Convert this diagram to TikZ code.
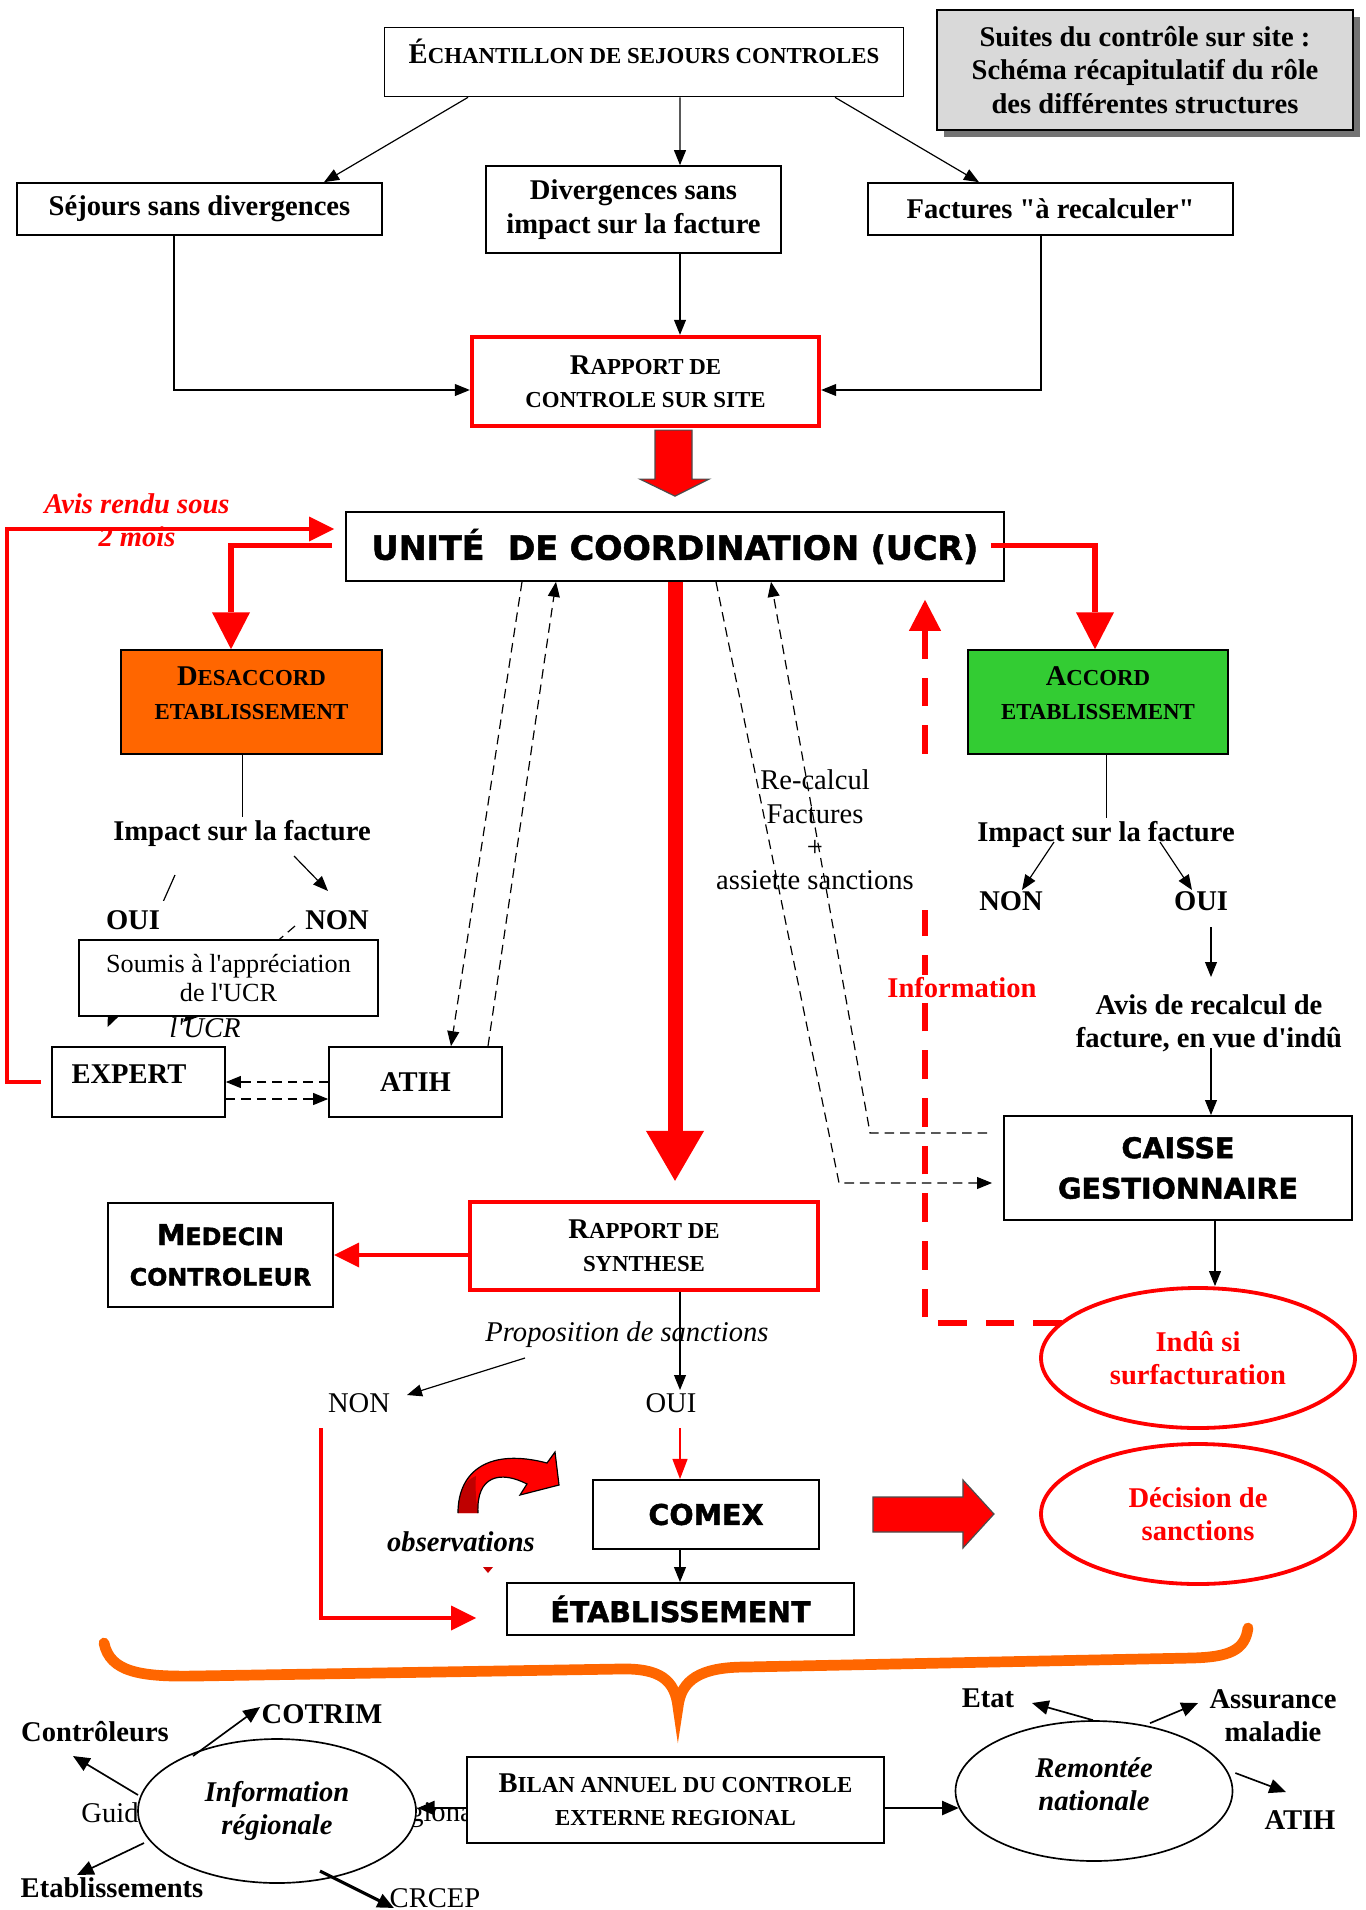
\documentclass[tikz,border=0pt]{standalone}
\usepackage{fontspec}
\setmainfont{Liberation Serif}
\newfontfamily\heavyfont{DejaVu Sans}[BoldFeatures={FakeBold=1.5}]
\usetikzlibrary{arrows.meta,calc,shapes.geometric,shadows,backgrounds}
\definecolor{ucrred}{RGB}{255,0,0}
\definecolor{desorange}{RGB}{255,102,0}
\definecolor{accgreen}{RGB}{51,204,51}
\newdimen\pxu \pxu=0.42pt
\newcommand\scap[2]{{\fontsize{12}{14}\selectfont #1}{\fontsize{9.6}{14}\selectfont #2}}
\newcommand\hcap[2]{{\fontsize{12}{17}\selectfont #1}{\fontsize{10}{17}\selectfont #2}}
\newcommand\ap{\textquotesingle}
\begin{document}
\begin{tikzpicture}[x=0.42pt, y=-0.42pt,
  box/.style={draw, line width=0.7pt, inner sep=0pt, align=center, font=\fontsize{12}{14}\selectfont\bfseries},
  redbox/.style={box, draw=ucrred, line width=1.8pt},
  heavybox/.style={box, line width=0.8pt, font=\heavyfont\bfseries\fontsize{12}{17}\selectfont},
  oval/.style={ellipse, draw, fill=white, line width=0.7pt, inner sep=0pt, align=center, font=\fontsize{12}{14}\selectfont\bfseries\itshape},
  redoval/.style={oval, draw=ucrred, line width=1.6pt, text=ucrred, font=\fontsize{12}{14}\selectfont\bfseries},
  lbl/.style={inner sep=1pt, align=center, font=\fontsize{12}{14}\selectfont\bfseries},
  txt/.style={inner sep=1pt, align=center, font=\fontsize{12}{14}\selectfont},
  itxt/.style={txt, font=\fontsize{12}{14}\selectfont\itshape},
  arr/.style={line width=0.5pt, -{Triangle[length=6.3pt, width=5pt]}},
  arrbig/.style={line width=0.7pt, -{Triangle[length=7pt, width=6pt]}},
  dsh/.style={arr, dash pattern=on 4pt off 2.5pt},
  redarr/.style={draw=ucrred, line width=2.5pt, -{Triangle[length=15.5pt, width=16pt, line width=0pt]}},
  redmid/.style={draw=ucrred, line width=1.6pt, -{Triangle[length=10.5pt, width=10.5pt, line width=0pt]}},
  redthin/.style={draw=ucrred, line width=1pt, -{Triangle[length=8.5pt, width=6.5pt, line width=0pt]}},
  reddash/.style={draw=ucrred, line width=2.5pt, dash pattern=on 12pt off 8pt},
  bigred/.style={draw=ucrred, line width=6.3pt, -{Triangle[length=21pt, width=24.4pt, line width=0pt]}},
  blockred/.style={fill=ucrred, draw=black!70, line width=0.5pt}]
\useasboundingbox (0,0) rectangle (1366,1910);

% top part
\node[box, text depth=9pt] (ech) at (644,62) [minimum width=519\pxu, minimum height=69\pxu] {\scap{É}{CHANTILLON DE SEJOURS CONTROLES}};
\node[box, fill=black!15, drop shadow={shadow xshift=3pt, shadow yshift=-3pt, fill=black!55, opacity=1}] (title) at (1145,70) [minimum width=416\pxu, minimum height=120\pxu] {Suites du contrôle sur site :\\Schéma récapitulatif du rôle\\des différentes structures};
\node[box] (sejours) at (199.5,209) [minimum width=365\pxu, minimum height=52\pxu] {Séjours sans divergences};
\node[box] (diverg) at (633.5,209.5) [minimum width=295\pxu, minimum height=87\pxu] {Divergences sans\\impact sur la facture};
\node[box] (factures) at (1050.5,209) [minimum width=365\pxu, minimum height=52\pxu] {Factures \textquotedbl à recalculer\textquotedbl};
\node[redbox] (rapport) at (645.5,381.5) [minimum width=347\pxu, minimum height=89\pxu] {\scap{R}{APPORT DE}\\\scap{}{CONTROLE SUR SITE}};
\draw[arr] ($(ech.south)+(-176,0)$) -- ($(sejours.north)+(124.5,0)$);
\draw[arr] ($(ech.south)+(36,0)$) -- ($(diverg.north)+(46.5,0)$);
\draw[arr] ($(ech.south)+(191,0)$) -- ($(factures.north)+(-71.5,0)$);
\draw[arr] ($(diverg.south)+(46.5,0)$) -- ($(rapport.north)+(34.5,0)$);
\draw[arr] ($(sejours.south)+(-25.5,0)$) |- ($(rapport.west)+(0,8.5)$);
\draw[arr] ($(factures.south)+(-9.5,0)$) |- ($(rapport.east)+(0,8.5)$);

% UCR and the two answers
\node[box, font=\heavyfont\bfseries\fontsize{14}{17}\selectfont] (ucr) at (675,546.5) [minimum width=658\pxu, minimum height=69\pxu] {UNITÉ\ \ DE COORDINATION (UCR)};
\draw[blockred] ($(rapport.south)+(9.5,2)$) -- ++(0,49) -- ++(-15,0) -- ++(35,17) -- ++(34,-17) -- ++(-17,0) -- ++(0,-49) -- cycle;
\node[box, fill=desorange, text depth=7.5pt] (desacc) at (251.5,702) [minimum width=261\pxu, minimum height=104\pxu] {\scap{D}{ESACCORD}\\\scap{}{ETABLISSEMENT}};
\node[box, fill=accgreen, text depth=7.5pt] (accord) at (1098,702) [minimum width=260\pxu, minimum height=104\pxu] {\scap{A}{CCORD}\\\scap{}{ETABLISSEMENT}};
\node[lbl, text=ucrred, font=\fontsize{12}{14}\selectfont\bfseries\itshape] (avisdelai) at (137,520) {Avis rendu sous\\2 mois};
\draw[redarr] ($(ucr.west)+(-13,-1)$) -| ($(desacc.north)+(-20.5,0)$);
\draw[redarr] ($(ucr.east)+(-14,-1)$) -| ($(accord.north)+(-3,0)$);

% left branch
\node[lbl] (impL) at (242,833) {Impact sur la facture};
\node[lbl, fill=white, inner sep=4pt] (ouiL) at (133,920) {OUI};
\node[lbl] (nonL) at (337,920) {NON};
\node[itxt] (lucr) at (205,1028) {l\ap UCR};
\node[txt, draw, fill=white, line width=0.7pt, minimum width=299\pxu, minimum height=76\pxu, inner sep=0pt, font=\fontsize{11}{12.5}\selectfont] (soumis) at (228.5,978) {Soumis à l\ap appréciation\\de l\ap UCR};
\node[box, text depth=7pt, text width=134\pxu, align=left] (expert) at (138.5,1082) [minimum width=173\pxu, minimum height=70\pxu] {EXPERT};
\node[box] (atih) at (415.5,1082) [minimum width=173\pxu, minimum height=70\pxu] {ATIH};
\draw (desacc.south -| impL.north) -- (impL.north);
\draw[arr] ($(impL)+(52,23)$) -- ($(nonL)+(-9,-29)$);
\begin{scope}[on background layer]
\draw[arr] ($(impL)+(-67,42)$) -- ($(expert.north)+(-31,-19)$);
\draw[dsh] ($(nonL)+(-42,6)$) -- ($(lucr)+(-22,-6)$);
\end{scope}
\draw[dsh] (atih.west) -- (expert.east);
\draw[dsh] ($(expert.east)+(0,17)$) -- ($(atih.west)+(0,17)$);
\draw[dsh] ($(ucr.south)+(-153,0)$) -- ($(atih.north)+(35.5,0)$);
\draw[dsh] ($(atih.north)+(72.5,0)$) -- ($(ucr.south)+(-119,0)$);
\draw[redmid] ($(expert.west)+(-10,0)$) -- ++(-34,0) |- ($(ucr.west)+(-11,-17.5)$);

% right branch
\node[lbl] (impR) at (1106,834) {Impact sur la facture};
\node[lbl] (nonR) at (1011,901) {NON};
\node[lbl] (ouiR) at (1201,901) {OUI};
\node[lbl] (avis) at (1209,1023) {Avis de recalcul de\\facture, en vue d\ap indû};
\node[txt] (recalc) at (815,830) {Re-calcul\\Factures\\+\\assiette sanctions};
\node[lbl, text=ucrred, fill=white] (info) at (962,988) {Information};
\node[heavybox] (caisse) at (1178,1168) [minimum width=348\pxu, minimum height=104\pxu] {CAISSE\\GESTIONNAIRE};
\node[redoval] (indu) at (1198,1358) [minimum width=314\pxu, minimum height=140\pxu] {Indû si\\surfacturation};
\node[redoval] (decision) at (1198,1514) [minimum width=314\pxu, minimum height=140\pxu] {Décision de\\sanctions};
\draw (accord.south -| impR.north) -- (impR.north);
\draw[arr] ($(impR)+(-52,8)$) -- ($(nonR)+(11,-11)$);
\draw[arr] ($(impR)+(54,8)$) -- ($(ouiR)+(-9,-11)$);
\draw[arr] ($(ouiR)+(10,26)$) -- ($(avis)+(2,-46)$);
\draw[arr] ($(avis)+(2,25)$) -- ($(caisse.north)+(33,0)$);
\draw[arr] ($(caisse.south)+(37,0)$) -- ($(indu.north)+(17,0)$);
\draw[dsh] ($(ucr.south)+(41,0)$) -- ($(caisse.west)+(-164,15)$) -- ($(caisse.west)+(-11,15)$);
\draw[dsh] ($(caisse.west)+(-16,-35)$) -- ($(caisse.west)+(-133,-35)$) -- ($(ucr.south)+(96,0)$);
\begin{scope}[on background layer]
\draw[reddash] ($(indu)+(-136,-35)$) -| ($(ucr.south)+(250,328)$);
\draw[reddash, -{Triangle[length=13pt, width=13.5pt, line width=0pt]}] ($(ucr.south)+(250,172)$) -- ($(ucr.south)+(250,18)$);
\end{scope}

% synthese and sanctions
\node[redbox] (synth) at (644,1246) [minimum width=348\pxu, minimum height=88\pxu] {\scap{R}{APPORT DE}\\\scap{}{SYNTHESE}};
\node[heavybox, line width=1pt] (medecin) at (220.5,1255) [minimum width=225\pxu, minimum height=104\pxu] {\hcap{M}{EDECIN}\\\hcap{}{CONTROLEUR}};
\node[itxt] (propo) at (627,1335) {Proposition de sanctions};
\node[txt] (nonB) at (359,1403) {NON};
\node[txt] (ouiB) at (671,1403) {OUI};
\node[heavybox] (comex) at (706,1514.5) [minimum width=226\pxu, minimum height=69\pxu] {COMEX};
\node[heavybox] (etab) at (680.5,1609) [minimum width=347\pxu, minimum height=52\pxu] {ÉTABLISSEMENT};
\node[lbl, font=\fontsize{12}{14}\selectfont\bfseries\itshape] (obs) at (461,1542) {observations};
\draw[bigred] (ucr.south) -- ($(synth.north)+(31,-19)$);
\draw[redmid] ($(synth.west)+(0,9)$) -- (medecin.east);
\draw[arr] ($(synth.south)+(36,0)$) -- ($(ouiB)+(9,-13)$);
\draw[arr] ($(propo)+(-102,23)$) -- ($(nonB)+(48,-8)$);
\draw[redthin] ($(ouiB)+(9,25)$) -- ($(comex.north)+(-26,0)$);
\draw[redmid] ($(nonB)+(-38,25)$) |- ($(etab.west)+(-30,9)$);
\draw[arr] ($(comex.south)+(-26,0)$) -- ($(etab.north)+(-0.5,0)$);
\draw[blockred] ($(comex.east)+(53,-17.5)$) -- ++(90,0) -- ++(0,-17) -- ++(31,34) -- ++(-31,34) -- ++(0,-16) -- ++(-90,0) -- cycle;
\begin{scope}[shift={(obs.center)}]
\fill[ucrred] (-3,-29) .. controls (-3,-72) and (29,-94) .. (86,-79) -- (94,-90) -- (98,-57) -- (59,-47) -- (66,-58) .. controls (39,-72) and (15,-66) .. (17,-29) -- cycle;
\fill[ucrred!75!black] (-3,-29) .. controls (-3,-50) and (4,-62) .. (15,-66) .. controls (14,-55) and (15,-40) .. (17,-29) -- cycle;
\draw[line width=0.5pt] (-3,-29) .. controls (-3,-72) and (29,-94) .. (86,-79) -- (94,-90) -- (98,-57) -- (59,-47) -- (66,-58) .. controls (39,-72) and (15,-66) .. (17,-29);
\fill[ucrred!80!black] (22,25) -- (32,25) -- (27,31) -- cycle;
\end{scope}

% orange brace
\draw[desorange, line width=4.5pt, line cap=round] (104,1643) .. controls (110,1672) and (140,1677) .. (196,1676) -- (620,1669) .. controls (660,1668) and (675,1680) .. (678,1707) .. controls (681,1680) and (700,1667) .. (746,1667) -- (1192,1658) .. controls (1230,1657) and (1245,1650) .. (1248,1628);

% bilan annuel
\node[txt] (guid) at (110,1813) {Guid};
\node[txt] (giona) at (441,1815) {giona};
\node[oval] (inforeg) at (277,1811) [minimum width=278\pxu, minimum height=144\pxu] {Information\\régionale};
\node[box, fill=white] (bilan) at (675.5,1800) [minimum width=417\pxu, minimum height=86\pxu] {\scap{B}{ILAN ANNUEL DU CONTROLE}\\\scap{}{EXTERNE REGIONAL}};
\node[oval, text depth=6pt] (remont) at (1094,1791) [minimum width=277\pxu, minimum height=140\pxu] {Remontée\\nationale};
\node[lbl] (etat) at (988,1698) {Etat};
\node[lbl] (assur) at (1273,1716) {Assurance\\maladie};
\node[lbl] (atihB) at (1300,1820) {ATIH};
\node[lbl] (cotrim) at (322,1714) {COTRIM};
\node[lbl] (controleurs) at (95,1732) {Contrôleurs};
\node[lbl] (etabs) at (112,1888) {Etablissements};
\node[txt] (crcep) at (435,1898) {CRCEP};
\draw[arrbig] ($(bilan.west)+(0,8)$) -- ($(inforeg.east)+(1,-3)$);
\draw[arrbig] ($(bilan.east)+(0,8)$) -- ($(remont.west)+(4,17)$);
\draw[arrbig] ($(remont.north)+(-1,0)$) -- ($(etat)+(44,5)$);
\draw[arrbig] ($(remont.north)+(56,3)$) -- ($(assur)+(-75,-13)$);
\draw[arrbig] ($(remont.east)+(2,-18)$) -- ($(atihB)+(-14,-28)$);
\draw[arrbig] ($(inforeg)+(-84,-55)$) -- ($(cotrim)+(-62,-7)$);
\draw[arrbig] ($(inforeg)+(-139,-16)$) -- ($(controleurs)+(-22,24)$);
\draw[arrbig] ($(inforeg)+(-133,32)$) -- ($(etabs)+(-35,-13)$);
\draw[arrbig, line width=1.3pt] ($(inforeg)+(43,60)$) -- ($(crcep)+(-41,10)$);
\end{tikzpicture}
\end{document}
